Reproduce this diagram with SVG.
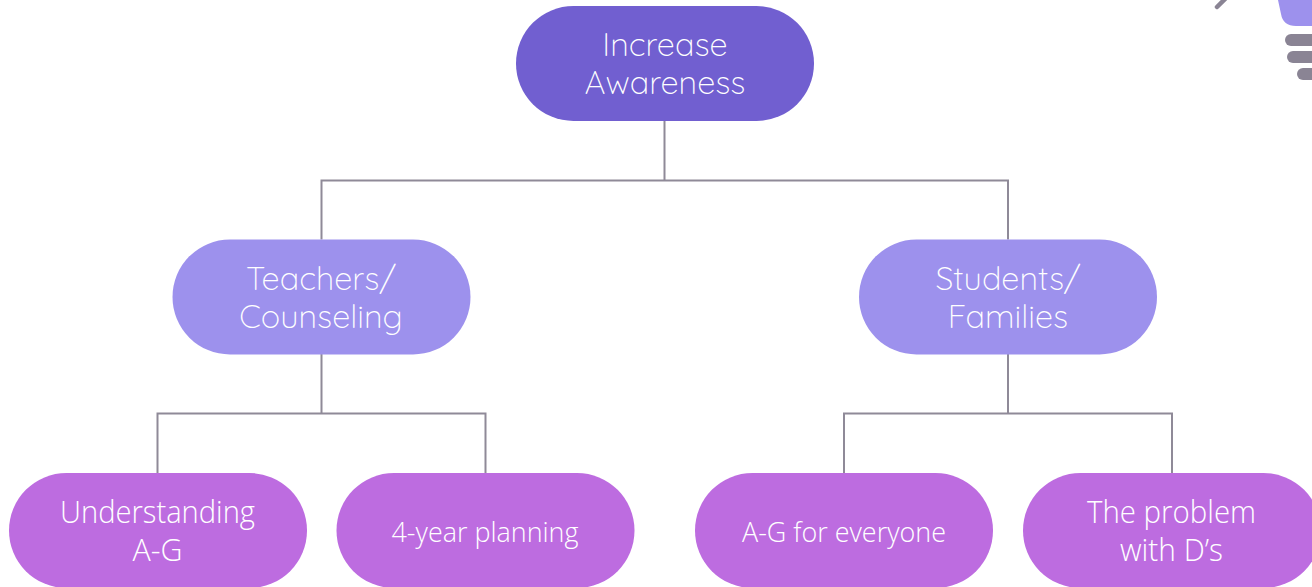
<svg xmlns="http://www.w3.org/2000/svg" width="1312" height="587" viewBox="0 0 1312 587">
<style>
.c{fill:none;stroke:#8f8a98;stroke-width:2}
.t{fill:#fff;text-anchor:middle;font-weight:300}
.a{font-family:"Quicksand","Lato","Noto Sans",sans-serif;font-size:32.500px}
.b{font-family:"Open Sans","Noto Sans",sans-serif;font-size:32px}
.d{font-family:"Open Sans","Noto Sans",sans-serif;font-size:28px}
.p{fill:#bd6ce0}.m{fill:#9d91ed}.g{fill:#8a8494}
</style>
<rect width="1312" height="587" fill="#fff"/>
<g id="connectors">
<path class="c" d="M664.500 121V180.500M321.500 239.500V180.500H1008V239.500"/>
<path class="c" d="M321.500 354V413.500M157.500 473V413.500H485.500V473"/>
<path class="c" d="M1008 354V413.500M844 473V413.500H1172V473"/>
</g>
<g id="n1"><rect x="516" y="6" width="298" height="115" rx="57.500" fill="#715fd0"/><text class="t a" x="665" y="56">Increase</text><text class="t a" x="665" y="94">Awareness</text></g>
<g id="n2"><rect x="172.500" y="239.500" width="298" height="115" rx="57.500" class="m"/><text class="t a" x="321" y="289.500">Teachers/</text><text class="t a" x="321" y="328">Counseling</text></g>
<g id="n3"><rect x="859" y="239.500" width="298" height="115" rx="57.500" class="m"/><text class="t a" x="1008" y="289.500">Students/</text><text class="t a" x="1008" y="328">Families</text></g>
<g id="n4"><rect x="9" y="473" width="298" height="115" rx="57.500" class="p"/><text class="t b" x="157.500" y="523" textLength="195" lengthAdjust="spacingAndGlyphs">Understanding</text><text class="t b" x="157.500" y="561" textLength="50" lengthAdjust="spacingAndGlyphs">A-G</text></g>
<g id="n5"><rect x="336.500" y="473" width="298" height="115" rx="57.500" class="p"/><text class="t d" x="485" y="542" textLength="187" lengthAdjust="spacingAndGlyphs">4-year planning</text></g>
<g id="n6"><rect x="695" y="473" width="298" height="115" rx="57.500" class="p"/><text class="t d" x="844" y="542" textLength="204" lengthAdjust="spacingAndGlyphs">A-G for everyone</text></g>
<g id="n7"><rect x="1023" y="473" width="298" height="115" rx="57.500" class="p"/><text class="t b" x="1171.500" y="523" textLength="169" lengthAdjust="spacingAndGlyphs">The problem</text><text class="t b" x="1171.500" y="561" textLength="103" lengthAdjust="spacingAndGlyphs">with D’s</text></g>
<g id="bulb">
<path d="M1278 0H1312V26H1296Q1283 26 1281 14Z" class="m"/>
<rect x="1285" y="34" width="40" height="12" rx="6" class="g"/>
<rect x="1287" y="51" width="40" height="12" rx="6" class="g"/>
<rect x="1297" y="68" width="30" height="12" rx="6" class="g"/>
<path d="M1217 7L1226 -2" stroke="#8a8494" stroke-width="4.500" stroke-linecap="round" fill="none"/>
</g>
</svg>
